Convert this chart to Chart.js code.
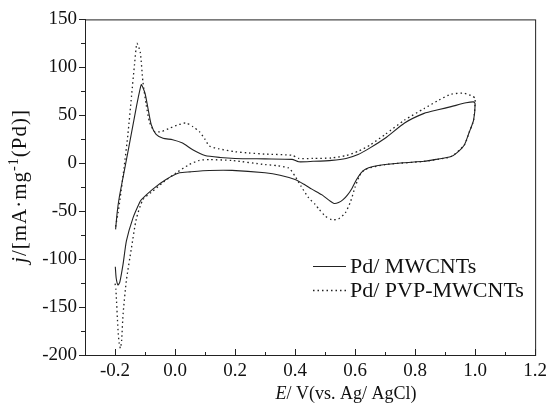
<!DOCTYPE html>
<html>
<head>
<meta charset="utf-8">
<script src="https://cdn.jsdelivr.net/npm/chart.js@4"></script>
<style>
  html, body { margin: 0; padding: 0; background: #fff; }
  #wrap { width: 552px; height: 404px; }
</style>
</head>
<body>
<div id="wrap"><canvas id="chart" width="552" height="404"></canvas></div>
<script>
// Pd/MWCNTs (solid) - potential in V, current density in mA/mg
var mwcntsE = [-0.198, -0.193, -0.186, -0.166, -0.146, -0.128, -0.116, -0.112, -0.1, -0.09, -0.079, -0.063, -0.04, -0.008, 0.025, 0.059, 0.1, 0.15, 0.2, 0.3, 0.39, 0.412, 0.46, 0.522, 0.57, 0.61, 0.65, 0.70, 0.765, 0.83, 0.88, 0.92, 0.97, 0.995, 1.0,
  0.995, 0.98, 0.964, 0.94, 0.92, 0.87, 0.83, 0.76, 0.70, 0.66, 0.633, 0.62, 0.605, 0.59, 0.575, 0.56, 0.545, 0.53, 0.515, 0.49, 0.456, 0.43, 0.40, 0.35, 0.30, 0.19, 0.114, 0.05, 0.015, -0.03, -0.074, -0.112, -0.118, -0.14, -0.162, -0.173, -0.184, -0.19, -0.196, -0.199];
var mwcntsJ = [-69, -52, -36, -3, 30, 60, 78, 82, 73, 57, 40, 30, 26, 24.5, 21, 14, 8, 6, 5, 4.5, 4, 1.5, 2, 3, 5, 9, 16, 26, 42, 52, 56, 59, 63, 64, 62,
  45, 32, 19, 11, 7, 4, 2, 0.5, -1.4, -3.5, -6.5, -10, -17, -26, -33, -38, -41, -42, -39, -33, -27, -22, -17, -12.5, -10, -7.5, -7.6, -9, -10, -17, -27, -38, -41, -57, -81, -105, -124, -127, -120, -108];

// Pd/PVP-MWCNTs (dotted)
var pvpE = [-0.198, -0.19, -0.184, -0.17, -0.157, -0.145, -0.135, -0.127, -0.116, -0.107, -0.096, -0.085, -0.068, -0.045, -0.018, 0.01, 0.037, 0.06, 0.081, 0.1, 0.114, 0.147, 0.2, 0.246, 0.3, 0.39, 0.412, 0.46, 0.522, 0.57, 0.61, 0.65, 0.70, 0.765, 0.83, 0.88, 0.92, 0.964, 0.99, 1.0,
  0.995, 0.98, 0.964, 0.92, 0.83, 0.70, 0.633, 0.615, 0.6, 0.585, 0.567, 0.545, 0.522, 0.5, 0.48, 0.467, 0.445, 0.42, 0.40, 0.379, 0.34, 0.30, 0.19, 0.114, 0.081, 0.048, 0.004, -0.04, -0.074, -0.107, -0.129, -0.145, -0.162, -0.173, -0.178, -0.182, -0.186, -0.19, -0.197, -0.2];
var pvpJ = [-66, -52, -39, -5, 30, 70, 103, 125, 116, 85, 61, 43, 33, 33, 36.5, 40, 42, 38, 33, 25, 18, 15, 12, 10.7, 9.5, 8.3, 5, 5, 5.5, 8, 12.4, 19, 30, 45, 57, 66, 72, 73, 70, 67.6,
  45, 32, 19, 7, 2, -1.4, -6.5, -13, -25, -40, -52, -58, -59, -55, -48, -43, -36, -24, -13.5, -5, -2.5, -1.4, 2.8, 3.8, 3, -1.3, -10, -20, -29, -38, -58, -88, -122, -157, -185, -193, -188, -174, -132, -125];

var xTicks = [-0.2, 0.0, 0.2, 0.4, 0.6, 0.8, 1.0, 1.2];
var xMinor = [-0.3, -0.1, 0.1, 0.3, 0.5, 0.7, 0.9, 1.1];
var yTicks = [150, 100, 50, 0, -50, -100, -150, -200];
var yMinor = [125, 75, 25, -25, -75, -125, -175];

var seriesNames = ['Pd/ MWCNTs', 'Pd/ PVP-MWCNTs'];

function pts(xs, ys) {
  var out = [];
  for (var i = 0; i < xs.length; i++) out.push({x: xs[i], y: ys[i]});
  return out;
}

var FONT = '"Liberation Serif", "Times New Roman", serif';

// box, ticks, axis titles and the legend
var decor = {
  id: 'decor',
  afterDraw: function(chart) {
    var ctx = chart.ctx, a = chart.chartArea;
    var xs = chart.scales.x, ys = chart.scales.y;
    ctx.save();
    ctx.strokeStyle = '#222';
    ctx.lineWidth = 1;
    ctx.strokeRect(a.left + 0.5, a.top + 0.5, a.right - a.left, a.bottom - a.top);

    ctx.beginPath();
    // x ticks point inward
    xTicks.forEach(function(v) {
      var px = Math.round(xs.getPixelForValue(v)) + 0.5;
      ctx.moveTo(px, a.bottom); ctx.lineTo(px, a.bottom - 6);
    });
    xMinor.forEach(function(v) {
      var px = Math.round(xs.getPixelForValue(v)) + 0.5;
      ctx.moveTo(px, a.bottom); ctx.lineTo(px, a.bottom - 3);
    });
    // y ticks point outward
    yTicks.forEach(function(v) {
      var py = Math.round(ys.getPixelForValue(v)) + 0.5;
      ctx.moveTo(a.left, py); ctx.lineTo(a.left - 6, py);
    });
    yMinor.forEach(function(v) {
      var py = Math.round(ys.getPixelForValue(v)) + 0.5;
      ctx.moveTo(a.left, py); ctx.lineTo(a.left - 4, py);
    });
    ctx.stroke();

    ctx.fillStyle = '#111';
    ctx.textBaseline = 'alphabetic';

    // x title
    var it = 'italic 18px ' + FONT, rg = '18px ' + FONT;
    ctx.font = it; var wE = ctx.measureText('E').width;
    ctx.font = rg; var rest = '/ V(vs. Ag/ AgCl)'; var wR = ctx.measureText(rest).width;
    var x0 = 346 - (wE + wR) / 2;
    ctx.font = it; ctx.fillText('E', x0, 399);
    ctx.font = rg; ctx.fillText(rest, x0 + wE, 399);

    // y title (rotated), drawn char by char with a little spacing
    ctx.save();
    ctx.translate(26, 186);
    ctx.rotate(-Math.PI / 2);
    var yi = 'italic 21px ' + FONT, yr = '21px ' + FONT, ys2 = '14px ' + FONT;
    var parts = [['j', yi, 0], ['/[mA\u00b7mg', yr, 0], ['-1', ys2, -8], ['(Pd)]', yr, 0]];
    var gap = 1;
    var chars = [];
    parts.forEach(function(p) {
      p[0].split('').forEach(function(c) { chars.push([c, p[1], p[2]]); });
    });
    var tot = 0;
    chars.forEach(function(c) { ctx.font = c[1]; tot += ctx.measureText(c[0]).width + gap; });
    var cx = -tot / 2;
    chars.forEach(function(c) {
      ctx.font = c[1];
      ctx.fillText(c[0], cx, c[2]);
      cx += ctx.measureText(c[0]).width + gap;
    });
    ctx.restore();

    // legend
    var ds = chart.data.datasets;
    var rows = [266, 290];
    ctx.font = '22px ' + FONT;
    ctx.textBaseline = 'middle';
    for (var i = 0; i < ds.length; i++) {
      ctx.beginPath();
      ctx.strokeStyle = ds[i].borderColor;
      ctx.lineWidth = ds[i].borderWidth;
      ctx.setLineDash(ds[i].borderDash || []);
      ctx.moveTo(313, rows[i] + 0.5);
      ctx.lineTo(346, rows[i] + 0.5);
      ctx.stroke();
      ctx.setLineDash([]);
      ctx.fillText(ds[i].label, 350, rows[i] + 1);
    }
    ctx.restore();
  }
};

new Chart(document.getElementById('chart'), {
  type: 'scatter',
  data: {
    datasets: [
      {
        label: seriesNames[0],
        data: pts(mwcntsE, mwcntsJ),
        showLine: true,
        borderColor: '#222',
        borderWidth: 1.1,
        pointRadius: 0,
        tension: 0.2
      },
      {
        label: seriesNames[1],
        data: pts(pvpE, pvpJ),
        showLine: true,
        borderColor: '#222',
        borderWidth: 1.3,
        borderDash: [1.5, 3],
        pointRadius: 0,
        tension: 0.2
      }
    ]
  },
  options: {
    responsive: false,
    animation: false,
    layout: { padding: { top: 17, right: 13, left: 0, bottom: 0 } },
    plugins: {
      legend: { display: false },
      tooltip: { enabled: false }
    },
    scales: {
      x: {
        type: 'linear',
        min: -0.3,
        max: 1.2,
        afterBuildTicks: function(s) { s.ticks = xTicks.map(function(v) { return {value: v}; }); },
        afterFit: function(s) { s.height = 49; },
        grid: { display: false, drawTicks: false },
        border: { display: true, color: '#222', width: 1 },
        ticks: {
          color: '#111',
          padding: 5,
          maxRotation: 0,
          font: { family: FONT, size: 19 },
          callback: function(v) { return Number(v).toFixed(1); }
        }
      },
      y: {
        type: 'linear',
        min: -200,
        max: 150,
        afterBuildTicks: function(s) { s.ticks = yTicks.map(function(v) { return {value: v}; }); },
        afterFit: function(s) { s.width = 85; },
        grid: { display: false, drawTicks: false },
        border: { display: true, color: '#222', width: 1 },
        ticks: {
          color: '#111',
          padding: 8,
          font: { family: FONT, size: 19 },
          callback: function(v) { return String(v); }
        }
      }
    }
  },
  plugins: [decor]
});
</script>
</body>
</html>
